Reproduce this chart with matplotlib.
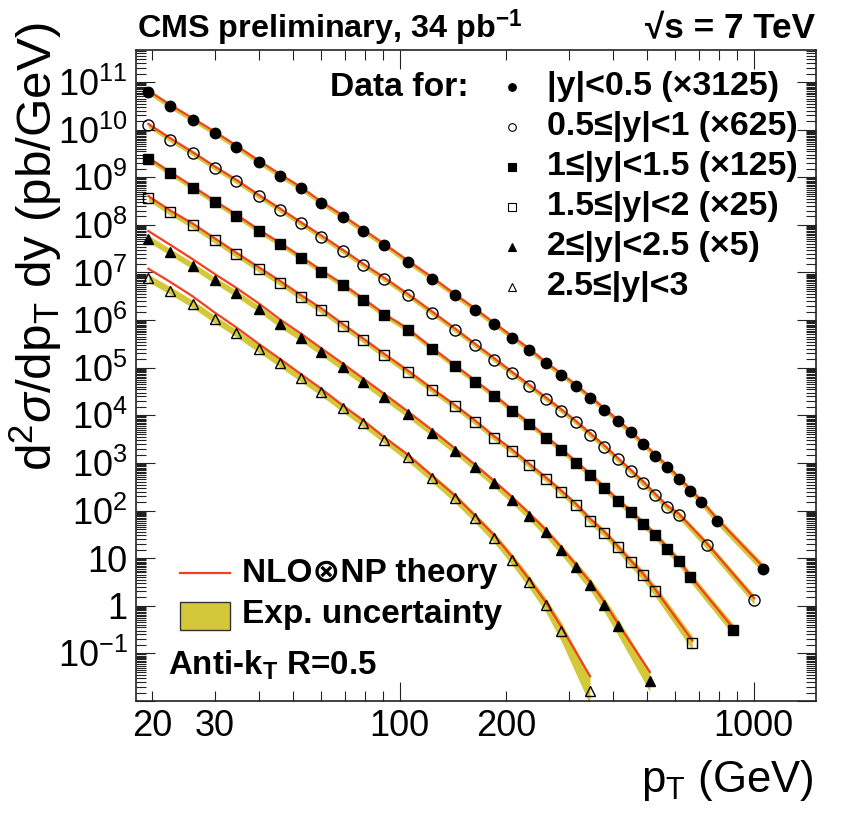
import numpy as np
import matplotlib
matplotlib.use("Agg")
import matplotlib.pyplot as plt
from matplotlib.ticker import LogLocator, FuncFormatter, NullFormatter
from matplotlib.patches import Rectangle
from matplotlib.lines import Line2D

plt.rcParams['font.family'] = ['Liberation Sans', 'DejaVu Sans']
plt.rcParams['mathtext.fontset'] = 'custom'
plt.rcParams['mathtext.rm'] = 'Liberation Sans'
plt.rcParams['mathtext.it'] = 'Liberation Sans:italic'
plt.rcParams['mathtext.bf'] = 'Liberation Sans:bold'

# jet pT bin centres (GeV) and log10 of d2sigma/dpTdy (pb/GeV), scaled as in the legend
pt_common = [19.5, 22.5, 26, 30, 34.5, 40, 46, 52.5, 60, 69, 79, 90.5, 105.5, 123.5,
             143, 163.5, 185, 208, 232.5, 258.5, 286, 315, 346, 378.5, 412.5, 449,
             487.5, 527.5, 570, 615, 662, 711.5]

# |y|<0.5 (x3125)
pt_y0 = pt_common + [790, 1066]
lg_y0 = [10.79, 10.49, 10.21, 9.93, 9.64, 9.32, 9.03, 8.77, 8.46, 8.17, 7.87, 7.57, 7.22, 6.87,
         6.52, 6.21, 5.91, 5.63, 5.37, 5.09, 4.85, 4.61, 4.36, 4.12, 3.88, 3.64,
         3.39, 3.15, 2.91, 2.67, 2.42, 2.18, 1.79, 0.78]
# 0.5<=|y|<1 (x625)
pt_y1 = pt_common[:30] + [738, 1003]
lg_y1 = [10.09, 9.79, 9.50, 9.20, 8.92, 8.60, 8.31, 8.03, 7.75, 7.45, 7.15, 6.86, 6.52, 6.15,
         5.80, 5.47, 5.17, 4.88, 4.61, 4.35, 4.10, 3.85, 3.59, 3.34, 3.08, 2.83,
         2.58, 2.32, 2.07, 1.90, 1.28, 0.13]
# 1<=|y|<1.5 (x125)
pt_y2 = pt_common[:31] + [875.5]
lg_y2 = [9.38, 9.08, 8.78, 8.48, 8.19, 7.87, 7.59, 7.31, 7.02, 6.73, 6.42, 6.10, 5.79, 5.39,
         5.03, 4.70, 4.40, 4.09, 3.81, 3.53, 3.27, 3.00, 2.74, 2.47, 2.21, 1.97,
         1.72, 1.48, 1.20, 0.93, 0.60, -0.50]
# 1.5<=|y|<2 (x25)
pt_y3 = pt_common[:28] + [671]
lg_y3 = [8.565, 8.26, 7.99, 7.68, 7.38, 7.07, 6.78, 6.49, 6.21, 5.88, 5.58, 5.26, 4.91, 4.53,
         4.19, 3.86, 3.53, 3.25, 2.95, 2.67, 2.39, 2.11, 1.79, 1.53, 1.23, 0.92,
         0.64, 0.31, -0.78]
# 2<=|y|<2.5 (x5)
pt_y4 = pt_common[:25] + [509]
lg_y4 = [7.71, 7.43, 7.14, 6.84, 6.56, 6.24, 5.91, 5.63, 5.33, 5.01, 4.70, 4.38, 4.02, 3.63,
         3.26, 2.91, 2.57, 2.23, 1.89, 1.55, 1.18, 0.81, 0.44, 0.02, -0.43, -1.59]
# 2.5<=|y|<3
pt_y5 = pt_common[:21] + [345]
lg_y5 = [6.88, 6.62, 6.34, 6.02, 5.73, 5.40, 5.09, 4.79, 4.49, 4.15, 3.83, 3.49, 3.12, 2.68,
         2.27, 1.84, 1.43, 0.97, 0.50, 0.02, -0.54, -1.78]

# NLO x NP theory, log10(theory/data) at each point
th_y0 = [0.03] * 34
th_y1 = [0.03] * 32
th_y2 = [0.03] * 32
th_y3 = [0.04] * 10 + [0.03] * 18 + [0.05]
th_y4 = [0.16, 0.15, 0.14, 0.13, 0.12, 0.11, 0.10, 0.09, 0.08, 0.08, 0.07, 0.07, 0.06, 0.06,
         0.05, 0.05, 0.05, 0.05, 0.05, 0.05, 0.05, 0.05, 0.05, 0.06, 0.07, 0.20]
th_y5 = [0.20, 0.18, 0.16, 0.14, 0.12, 0.10, 0.09, 0.08, 0.07, 0.06, 0.06, 0.05, 0.05, 0.05,
         0.05, 0.05, 0.05, 0.05, 0.05, 0.06, 0.10, 0.30]

# experimental uncertainty, half width in log10
eu_y0 = [0.05] * 20 + [0.05, 0.05, 0.05, 0.05, 0.06, 0.06, 0.06, 0.06, 0.07, 0.07, 0.07, 0.08, 0.09, 0.10]
eu_y1 = [0.05] * 20 + [0.05, 0.05, 0.06, 0.06, 0.06, 0.06, 0.07, 0.07, 0.07, 0.08, 0.09, 0.10]
eu_y2 = [0.05] * 20 + [0.06, 0.06, 0.06, 0.07, 0.07, 0.07, 0.08, 0.08, 0.09, 0.09, 0.10, 0.12]
eu_y3 = [0.06] * 20 + [0.07, 0.07, 0.08, 0.08, 0.09, 0.10, 0.11, 0.12, 0.15]
eu_y4 = [0.07] * 15 + [0.08, 0.08, 0.09, 0.09, 0.10, 0.11, 0.12, 0.13, 0.15, 0.17, 0.22]
eu_y5 = [0.08] * 12 + [0.09, 0.09, 0.10, 0.10, 0.11, 0.12, 0.13, 0.15, 0.20, 0.30]

labels = ['|y|<0.5 (\u00d73125)', '0.5\u2264|y|<1 (\u00d7625)', '1\u2264|y|<1.5 (\u00d7125)',
          '1.5\u2264|y|<2 (\u00d725)', '2\u2264|y|<2.5 (\u00d75)', '2.5\u2264|y|<3']

series = [(pt_y0, lg_y0, th_y0, eu_y0), (pt_y1, lg_y1, th_y1, eu_y1),
          (pt_y2, lg_y2, th_y2, eu_y2), (pt_y3, lg_y3, th_y3, eu_y3),
          (pt_y4, lg_y4, th_y4, eu_y4), (pt_y5, lg_y5, th_y5, eu_y5)]
markers = [('o', True), ('o', False), ('s', True), ('s', False), ('^', True), ('^', False)]
msizes = [7.5, 8, 7, 7.5, 7, 7.5]

band_col = '#d3c73a'
red = '#f5401e'

fig = plt.figure(figsize=(8.54, 8.13), dpi=100)
ax = fig.add_axes([136 / 854, 1 - 701 / 813, 680 / 854, 651 / 813])
ax.set_xscale('log')
ax.set_yscale('log')

for (pt, lg, th, eu), (m, filled), ms in zip(series, markers, msizes):
    pt = np.array(pt)
    lg = np.array(lg)
    ax.fill_between(pt, 10 ** (lg - np.array(eu)), 10 ** (lg + np.array(eu)),
                    color=band_col, lw=0, zorder=1)
    ax.plot(pt, 10 ** (lg + np.array(th)), color=red, lw=1.6, zorder=2)
    ax.plot(pt, 10 ** lg, ls='none', marker=m, ms=ms, mec='black', mew=1.0,
            mfc='black' if filled else 'none', zorder=3)

ax.set_xlim(18, 1500)
ax.set_ylim(0.01, 4.7e11)

ax.xaxis.set_major_locator(LogLocator(base=10, numticks=20))
ax.xaxis.set_minor_locator(LogLocator(base=10, subs=np.arange(2, 10), numticks=20))
ax.xaxis.set_major_formatter(FuncFormatter(lambda v, p: '%d' % round(v)))
ax.xaxis.set_minor_formatter(FuncFormatter(
    lambda v, p: '%d' % round(v) if round(v) in (20, 30, 200) else ''))

def ylab(v, p):
    e = int(round(np.log10(v)))
    if e < -1:
        return ''
    if e == 0:
        return '1'
    if e == 1:
        return '10'
    return r'$10^{%d}$' % e

ax.yaxis.set_major_locator(LogLocator(base=10, numticks=30))
ax.yaxis.set_minor_locator(LogLocator(base=10, subs=np.arange(1.5, 10, 0.5), numticks=30))
ax.yaxis.set_major_formatter(FuncFormatter(ylab))
ax.yaxis.set_minor_formatter(NullFormatter())

ax.tick_params(which='both', direction='in', top=True, right=True, width=0.8, colors='#222222',
               labelcolor='black')
ax.tick_params(which='major', length=14, labelsize=26, pad=6)
ax.tick_params(which='minor', length=7, labelsize=26, pad=6)
for s in ax.spines.values():
    s.set_linewidth(1.2)
    s.set_color('#222222')

# axis titles
xt = fig.text(813 / 854, 1 - 792 / 813, r'p$_{\rm T}$ (GeV)', fontsize=31, ha='right',
              va='baseline')
yt = fig.text(36 / 854, 1 - 22 / 813, r'd$^{2}\sigma$/dp$_{\rm T}$ dy (pb/GeV)', fontsize=31,
              rotation=90, ha='center', va='top')

# header
t_cms = fig.text(137 / 854, 1 - 38 / 813, r'CMS preliminary, 34 pb$^{\mathbf{-1}}$',
                 fontsize=22, fontweight='bold', ha='left', va='baseline')
t_rs = fig.text(815 / 854, 1 - 38 / 813, '\u221as = 7 TeV', fontsize=22, fontweight='bold',
                ha='right', va='baseline')

# data legend
t_data = fig.text(469 / 854, 1 - 88 / 813, 'Data for:', fontsize=22, fontweight='bold',
                  ha='right', va='center')
row_y = [87, 127, 167, 207, 247, 287]
leg_txt = []
for (m, filled), lab, yy in zip(markers, labels, row_y):
    fig.add_artist(Line2D([512 / 854], [1 - yy / 813], marker=m, ms=5.5, mec='black', mew=0.8,
                          mfc='black' if filled else 'none', ls='none'))
    leg_txt.append(fig.text(547 / 854, 1 - yy / 813, lab, fontsize=22, fontweight='bold',
                            ha='left', va='center'))

# theory / uncertainty legend
fig.add_artist(Line2D([180 / 854, 230 / 854], [1 - 573 / 813] * 2, color=red, lw=1.6))
t_nlo = fig.text(242 / 854, 1 - 573 / 813, 'NLO\u2297NP theory', fontsize=22,
                 fontweight='bold', ha='left', va='center')
fig.add_artist(Rectangle((180 / 854, 1 - 630 / 813), 50 / 854, 28 / 813, facecolor=band_col,
                         edgecolor='#333333', lw=1.0, transform=fig.transFigure))
t_exp = fig.text(242 / 854, 1 - 614 / 813, 'Exp. uncertainty', fontsize=22, fontweight='bold',
                 ha='left', va='center')
t_anti = fig.text(168 / 854, 1 - 665 / 813, r'Anti-k$_{\mathbf{T}}$ R=0.5', fontsize=22,
                  fontweight='bold', ha='left', va='center')

# scale the text so that its length matches the picture
fig.canvas.draw()
r = fig.canvas.get_renderer()
def fit(t, target, others=(), vertical=False):
    bb = t.get_window_extent(r)
    size = bb.height if vertical else bb.width
    fs = t.get_fontsize() * target / size
    for a in (t,) + tuple(others):
        a.set_fontsize(fs)

fit(xt, 172)
fit(yt, 448, vertical=True)
fit(t_cms, 385)
fit(t_rs, 170)
fit(t_data, 138)
fit(leg_txt[0], 232, leg_txt[1:])
fit(t_nlo, 255, [t_exp])
fit(t_anti, 209)

fig.savefig('out.png', dpi=100)
